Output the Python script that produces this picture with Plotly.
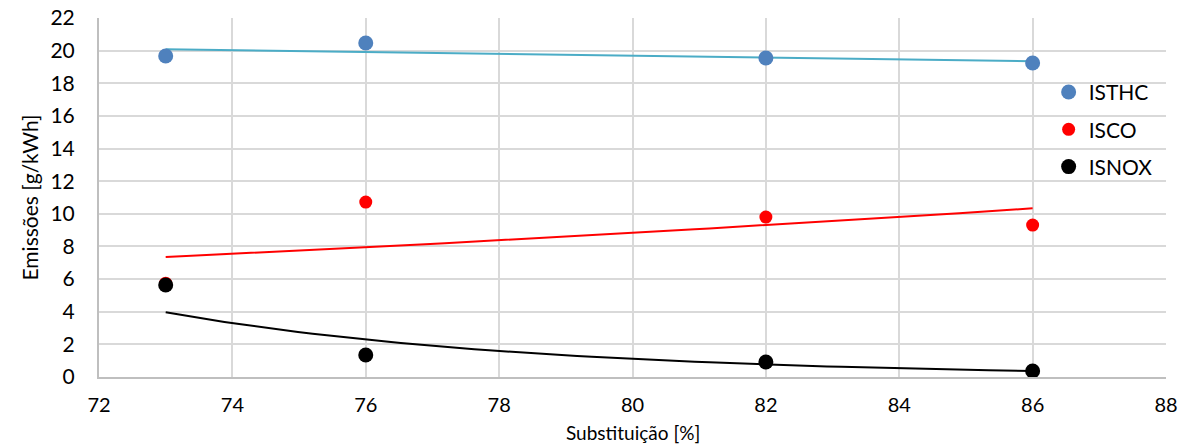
import numpy as np
import plotly.graph_objects as go

substituicao = [73, 76, 82, 86]
isthc = [19.67, 20.47, 19.55, 19.24]
isco = [5.75, 10.72, 9.80, 9.31]
isnox = [5.64, 1.35, 0.92, 0.37]

x_ticks = [72, 74, 76, 78, 80, 82, 84, 86, 88]
y_ticks = [0, 2, 4, 6, 8, 10, 12, 14, 16, 18, 20, 22]

FONT = "Lato"


def exp_trend(x, y, n=60):
    x = np.asarray(x, float)
    y = np.asarray(y, float)
    b, a = np.polyfit(x, np.log(y), 1)
    xs = np.linspace(x.min(), x.max(), n)
    return xs, np.exp(a) * np.exp(b * xs)


def lin_trend(x, y, n=2):
    x = np.asarray(x, float)
    y = np.asarray(y, float)
    m, c = np.polyfit(x, y, 1)
    xs = np.linspace(x.min(), x.max(), n)
    return xs, m * xs + c


fig = go.Figure()

series = [
    ("ISTHC", isthc, "#4F81BD", "#4BACC6", 15, lin_trend),
    ("ISCO", isco, "#FF0000", "#FF0000", 13, exp_trend),
    ("ISNOX", isnox, "#000000", "#000000", 15, exp_trend),
]

# trendlines first (under markers)
for name, ys, mcol, lcol, size, fn in series:
    tx, ty = fn(substituicao, ys)
    fig.add_trace(go.Scatter(x=tx, y=ty, mode="lines",
                             line=dict(color=lcol, width=2),
                             showlegend=False, hoverinfo="skip"))

for i, (name, ys, mcol, lcol, size, fn) in enumerate(series):
    fig.add_trace(go.Scatter(x=substituicao, y=ys, mode="markers", name=name,
                             marker=dict(color=mcol, size=size),
                             legendgroup=name, legendrank=i + 1))

fig.update_layout(
    width=1191, height=445,
    margin=dict(l=99, r=25, t=18, b=68),
    paper_bgcolor="white", plot_bgcolor="white",
    font=dict(family=FONT, size=21, color="#000000"),
    showlegend=True,
    legend=dict(x=0.89, y=0.85, xanchor="left", yanchor="top",
                bgcolor="rgba(0,0,0,0)", font=dict(size=21, family=FONT),
                tracegroupgap=7, itemwidth=30),
    xaxis=dict(range=[72, 88], tickvals=x_ticks, ticktext=[str(v) for v in x_ticks],
               showgrid=True, gridcolor="#D9D9D9", gridwidth=1.5,
               showline=True, linecolor="#BFBFBF", linewidth=2,
               zeroline=False, ticks="", ticklabelstandoff=9, automargin=False,
               tickfont=dict(size=20)),
    yaxis=dict(range=[0, 22], tickvals=y_ticks, ticktext=[str(v) for v in y_ticks],
               showgrid=True, gridcolor="#D9D9D9", gridwidth=1.5,
               showline=True, linecolor="#BFBFBF", linewidth=2,
               zeroline=False, ticks="", ticklabelstandoff=18, automargin=False,
               tickfont=dict(size=21),
               title=dict(text="Emissões [g/kWh]", standoff=6,
                          font=dict(size=21, family=FONT))),
    annotations=[dict(text="Substituição [%]", xref="paper", yref="paper",
                      x=0.5, y=0, xanchor="center", yanchor="bottom",
                      yshift=-68, showarrow=False, borderpad=0,
                      font=dict(size=19, family=FONT))],
)

fig.write_html("out.html")
